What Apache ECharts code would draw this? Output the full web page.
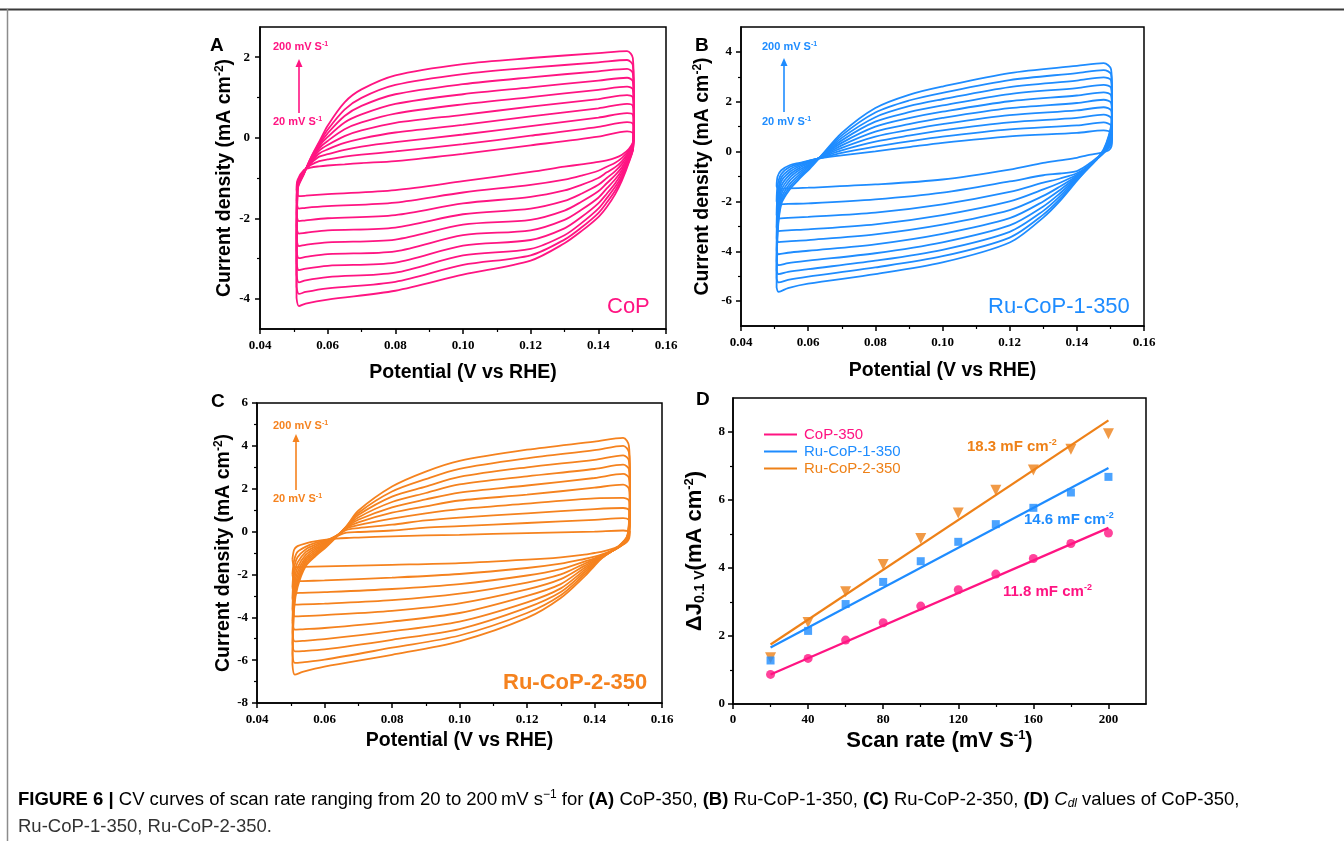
<!DOCTYPE html>
<html>
<head>
<meta charset="utf-8">
<script src="https://cdn.jsdelivr.net/npm/echarts@6/dist/echarts.min.js"></script>
<style>
  html, body { margin: 0; padding: 0; background: #fff; }
  #chart { width: 1344px; height: 841px; }
</style>
</head>
<body>
<div id="chart"></div>
<script>
// scan rates of the ten CV loops (mV/s), innermost loop first
const scanRates = [20, 40, 60, 80, 100, 120, 140, 160, 180, 200];

// ---- panel A, CoP: forward sweep (rows = potential, cols = scan rate)
const cvA_fwdX = [0.0508, 0.0511, 0.053, 0.055, 0.0575, 0.06, 0.065, 0.07, 0.08, 0.10, 0.12, 0.14, 0.1485, 0.1502];
const cvA_fwd = [
  [-1.30, -1.58, -1.89, -2.20, -2.50, -2.80, -3.10, -3.40, -3.70, -3.98],
  [-1.05, -1.10, -1.12, -1.15, -1.17, -1.20, -1.22, -1.25, -1.27, -1.30],
  [-0.80, -0.82, -0.83, -0.84, -0.85, -0.86, -0.87, -0.88, -0.89, -0.90],
  [-0.74, -0.68, -0.64, -0.61, -0.59, -0.57, -0.55, -0.53, -0.51, -0.50],
  [-0.71, -0.58, -0.47, -0.39, -0.32, -0.26, -0.21, -0.17, -0.13, -0.10],
  [-0.69, -0.54, -0.41, -0.29, -0.18, -0.08, 0.02, 0.11, 0.20, 0.30],
  [-0.66, -0.47, -0.30, -0.13, 0.04, 0.21, 0.38, 0.54, 0.70, 0.88],
  [-0.63, -0.42, -0.22, -0.02, 0.18, 0.38, 0.58, 0.79, 0.99, 1.20],
  [-0.58, -0.34, -0.11, 0.13, 0.37, 0.60, 0.84, 1.08, 1.31, 1.55],
  [-0.40, -0.16, 0.08, 0.32, 0.57, 0.83, 1.08, 1.33, 1.58, 1.83],
  [-0.19, 0.05, 0.29, 0.53, 0.77, 1.01, 1.25, 1.50, 1.74, 1.98],
  [0.03, 0.27, 0.50, 0.73, 0.96, 1.19, 1.42, 1.65, 1.87, 2.10],
  [0.16, 0.39, 0.61, 0.84, 1.06, 1.27, 1.49, 1.71, 1.93, 2.15],
  [0.12, 0.35, 0.57, 0.79, 1.00, 1.20, 1.40, 1.60, 1.80, 1.98]
];
// reverse sweep
const cvA_revX = [0.1505, 0.1503, 0.149, 0.147, 0.145, 0.1425, 0.14, 0.135, 0.13, 0.12, 0.10, 0.08, 0.06, 0.0535, 0.0515];
const cvA_rev = [
  [0.02, 0.15, 0.27, 0.40, 0.52, 0.64, 0.76, 0.88, 1.00, 1.10],
  [-0.10, -0.12, -0.14, -0.16, -0.18, -0.20, -0.22, -0.24, -0.25, -0.25],
  [-0.28, -0.32, -0.36, -0.40, -0.44, -0.48, -0.52, -0.56, -0.59, -0.62],
  [-0.42, -0.50, -0.58, -0.65, -0.73, -0.80, -0.87, -0.94, -1.00, -1.06],
  [-0.50, -0.62, -0.73, -0.83, -0.93, -1.03, -1.13, -1.22, -1.31, -1.40],
  [-0.56, -0.72, -0.86, -1.00, -1.13, -1.26, -1.39, -1.50, -1.61, -1.72],
  [-0.60, -0.82, -1.00, -1.17, -1.33, -1.49, -1.63, -1.76, -1.87, -1.97],
  [-0.66, -0.94, -1.17, -1.39, -1.59, -1.79, -1.97, -2.12, -2.23, -2.32],
  [-0.72, -1.04, -1.31, -1.57, -1.81, -2.04, -2.25, -2.42, -2.53, -2.62],
  [-0.85, -1.17, -1.47, -1.76, -2.04, -2.30, -2.54, -2.76, -2.92, -3.05],
  [-1.08, -1.36, -1.63, -1.90, -2.16, -2.42, -2.68, -2.92, -3.16, -3.40],
  [-1.30, -1.61, -1.92, -2.23, -2.53, -2.82, -3.10, -3.35, -3.58, -3.80],
  [-1.40, -1.70, -2.00, -2.30, -2.60, -2.89, -3.18, -3.46, -3.74, -4.02],
  [-1.44, -1.74, -2.05, -2.36, -2.66, -2.96, -3.25, -3.54, -3.83, -4.12],
  [-1.45, -1.76, -2.07, -2.38, -2.69, -2.99, -3.29, -3.59, -3.88, -4.18]
];

// ---- panel B, Ru-CoP-1-350
const cvB_fwdX = [0.0506, 0.0509, 0.052, 0.0545, 0.0575, 0.0605, 0.0635, 0.07, 0.08, 0.09, 0.10, 0.12, 0.14, 0.148, 0.1502];
const cvB_fwd = [
  [-1.40, -2.00, -2.55, -3.05, -3.50, -3.98, -4.42, -4.78, -5.10, -5.45],
  [-1.00, -1.35, -1.70, -2.00, -2.30, -2.55, -2.80, -3.00, -3.15, -3.30],
  [-0.75, -0.90, -1.05, -1.20, -1.38, -1.55, -1.72, -1.88, -2.00, -2.10],
  [-0.55, -0.62, -0.72, -0.82, -0.93, -1.05, -1.17, -1.30, -1.42, -1.52],
  [-0.45, -0.48, -0.52, -0.58, -0.65, -0.73, -0.82, -0.91, -1.00, -1.08],
  [-0.35, -0.36, -0.38, -0.41, -0.45, -0.49, -0.53, -0.58, -0.63, -0.68],
  [-0.27, -0.26, -0.25, -0.24, -0.24, -0.23, -0.23, -0.23, -0.23, -0.23],
  [-0.15, -0.05, 0.05, 0.15, 0.25, 0.35, 0.45, 0.55, 0.65, 0.75],
  [0.01, 0.20, 0.40, 0.60, 0.80, 1.00, 1.20, 1.38, 1.57, 1.75],
  [0.18, 0.41, 0.64, 0.87, 1.10, 1.34, 1.58, 1.82, 2.05, 2.28],
  [0.35, 0.60, 0.85, 1.10, 1.35, 1.60, 1.85, 2.10, 2.36, 2.61],
  [0.61, 0.89, 1.17, 1.46, 1.74, 2.02, 2.31, 2.59, 2.87, 3.15],
  [0.75, 1.05, 1.35, 1.65, 1.95, 2.25, 2.55, 2.85, 3.15, 3.44],
  [0.85, 1.17, 1.48, 1.78, 2.08, 2.38, 2.68, 2.98, 3.27, 3.55],
  [0.75, 1.05, 1.35, 1.65, 1.95, 2.25, 2.55, 2.85, 3.10, 3.30]
];
const cvB_revX = [0.1505, 0.1503, 0.1495, 0.148, 0.146, 0.143, 0.14, 0.135, 0.13, 0.12, 0.10, 0.08, 0.06, 0.054, 0.0512];
const cvB_rev = [
  [0.50, 0.75, 0.95, 1.15, 1.35, 1.55, 1.75, 1.95, 2.15, 2.35],
  [0.20, 0.35, 0.45, 0.55, 0.65, 0.75, 0.85, 0.95, 1.05, 1.15],
  [0.05, 0.15, 0.22, 0.28, 0.34, 0.40, 0.46, 0.52, 0.58, 0.64],
  [-0.02, -0.05, -0.05, -0.04, -0.03, -0.01, 0.01, 0.03, 0.06, 0.10],
  [-0.08, -0.25, -0.29, -0.30, -0.30, -0.30, -0.30, -0.29, -0.29, -0.28],
  [-0.15, -0.55, -0.62, -0.66, -0.68, -0.69, -0.70, -0.71, -0.72, -0.72],
  [-0.25, -0.78, -0.87, -0.93, -0.98, -1.02, -1.06, -1.10, -1.14, -1.18],
  [-0.35, -0.88, -1.08, -1.25, -1.40, -1.54, -1.67, -1.79, -1.90, -1.98],
  [-0.45, -0.95, -1.25, -1.52, -1.78, -2.00, -2.20, -2.38, -2.53, -2.65],
  [-0.72, -1.20, -1.62, -2.00, -2.35, -2.67, -2.96, -3.22, -3.45, -3.65],
  [-1.12, -1.65, -2.12, -2.55, -2.93, -3.30, -3.64, -3.94, -4.20, -4.45],
  [-1.32, -1.92, -2.45, -2.92, -3.32, -3.72, -4.08, -4.38, -4.65, -4.92],
  [-1.45, -2.08, -2.62, -3.12, -3.55, -3.98, -4.38, -4.72, -5.02, -5.30],
  [-1.48, -2.10, -2.66, -3.16, -3.60, -4.06, -4.48, -4.83, -5.15, -5.48],
  [-1.50, -2.12, -2.69, -3.19, -3.63, -4.12, -4.56, -4.92, -5.25, -5.63]
];

// ---- panel C, Ru-CoP-2-350
const cvC_fwdX = [0.0505, 0.051, 0.052, 0.0545, 0.0575, 0.0605, 0.0635, 0.0665, 0.07, 0.08, 0.09, 0.10, 0.12, 0.14, 0.1485, 0.1502];
const cvC_fwd = [
  [-1.30, -2.00, -2.60, -3.10, -3.60, -4.20, -4.70, -5.20, -5.70, -6.20],
  [-0.85, -1.35, -1.70, -2.00, -2.30, -2.60, -2.90, -3.15, -3.40, -3.60],
  [-0.68, -0.95, -1.20, -1.45, -1.68, -1.90, -2.10, -2.30, -2.45, -2.60],
  [-0.55, -0.70, -0.82, -0.95, -1.08, -1.20, -1.30, -1.40, -1.50, -1.60],
  [-0.45, -0.52, -0.60, -0.68, -0.76, -0.84, -0.92, -1.00, -1.07, -1.12],
  [-0.38, -0.40, -0.43, -0.47, -0.51, -0.55, -0.59, -0.63, -0.68, -0.72],
  [-0.33, -0.22, -0.20, -0.20, -0.21, -0.22, -0.23, -0.24, -0.25, -0.26],
  [-0.30, -0.05, 0.08, 0.14, 0.18, 0.20, 0.22, 0.23, 0.24, 0.25],
  [-0.28, -0.02, 0.16, 0.30, 0.43, 0.55, 0.66, 0.77, 0.87, 0.97],
  [-0.22, 0.05, 0.32, 0.60, 0.88, 1.13, 1.38, 1.63, 1.87, 2.10],
  [-0.18, 0.18, 0.52, 0.85, 1.18, 1.50, 1.80, 2.10, 2.45, 2.80],
  [-0.15, 0.25, 0.65, 1.05, 1.45, 1.82, 2.20, 2.55, 2.93, 3.30],
  [-0.07, 0.40, 0.85, 1.30, 1.72, 2.15, 2.58, 3.00, 3.42, 3.82],
  [0.00, 0.55, 1.05, 1.55, 2.05, 2.50, 2.92, 3.35, 3.80, 4.20],
  [0.05, 0.63, 1.10, 1.57, 2.19, 2.69, 3.12, 3.56, 4.00, 4.37],
  [0.02, 0.55, 1.00, 1.45, 2.00, 2.50, 2.90, 3.30, 3.70, 4.00]
];
const cvC_revX = [0.1505, 0.1503, 0.1498, 0.149, 0.147, 0.145, 0.142, 0.14, 0.137, 0.13, 0.12, 0.10, 0.08, 0.06, 0.0535, 0.0512];
const cvC_rev = [
  [0.00, 0.30, 0.60, 0.90, 1.20, 1.50, 1.80, 2.10, 2.40, 2.70],
  [-0.30, -0.10, 0.00, 0.10, 0.20, 0.30, 0.40, 0.50, 0.60, 0.70],
  [-0.45, -0.40, -0.35, -0.30, -0.28, -0.25, -0.22, -0.20, -0.18, -0.15],
  [-0.55, -0.55, -0.52, -0.50, -0.48, -0.46, -0.44, -0.42, -0.40, -0.38],
  [-0.70, -0.75, -0.75, -0.75, -0.74, -0.73, -0.72, -0.71, -0.70, -0.70],
  [-0.82, -0.90, -0.92, -0.93, -0.93, -0.93, -0.93, -0.93, -0.93, -0.93],
  [-0.95, -1.08, -1.12, -1.15, -1.17, -1.19, -1.21, -1.23, -1.25, -1.27],
  [-1.00, -1.17, -1.25, -1.30, -1.35, -1.40, -1.45, -1.50, -1.55, -1.60],
  [-1.08, -1.28, -1.40, -1.50, -1.60, -1.70, -1.80, -1.90, -2.00, -2.10],
  [-1.20, -1.50, -1.75, -2.00, -2.22, -2.45, -2.65, -2.82, -2.97, -3.10],
  [-1.31, -1.70, -2.05, -2.38, -2.70, -3.00, -3.30, -3.55, -3.80, -4.03],
  [-1.47, -1.98, -2.45, -2.90, -3.35, -3.80, -4.20, -4.55, -4.85, -5.12],
  [-1.55, -2.15, -2.68, -3.20, -3.70, -4.20, -4.65, -5.05, -5.42, -5.75],
  [-1.62, -2.28, -2.83, -3.36, -3.90, -4.50, -5.02, -5.50, -5.98, -6.30],
  [-1.65, -2.31, -2.86, -3.40, -3.95, -4.56, -5.10, -5.58, -6.10, -6.55],
  [-1.67, -2.32, -2.87, -3.41, -3.96, -4.58, -5.12, -5.59, -6.13, -6.68]
];

// ---- panel D, delta J at 0.1 V vs scan rate
const dlRates = [20, 40, 60, 80, 100, 120, 140, 160, 180, 200];
const dlCoP = [0.87, 1.34, 1.88, 2.39, 2.88, 3.36, 3.82, 4.28, 4.72, 5.03];
const dlRu1 = [1.28, 2.15, 2.94, 3.59, 4.20, 4.77, 5.29, 5.77, 6.22, 6.68];
const dlRu2 = [1.36, 2.40, 3.30, 4.10, 4.87, 5.62, 6.29, 6.88, 7.49, 7.95];
const fitX = [20, 200];
const fitCoP = [0.87, 5.18];
const fitRu1 = [1.66, 6.94];
const fitRu2 = [1.75, 8.34];

// tick values
const potTicks = [0.04, 0.06, 0.08, 0.10, 0.12, 0.14, 0.16];
const potMinor = [0.05, 0.07, 0.09, 0.11, 0.13, 0.15];
const aYTicks = [-4, -2, 0, 2];
const aYMinor = [-3, -1, 1];
const bYTicks = [-6, -4, -2, 0, 2, 4];
const bYMinor = [-5, -3, -1, 1, 3];
const cYTicks = [-8, -6, -4, -2, 0, 2, 4, 6];
const cYMinor = [-7, -5, -3, -1, 1, 3, 5];
const dXTicks = [0, 40, 80, 120, 160, 200];
const dXMinor = [20, 60, 100, 140, 180];
const dYTicks = [0, 2, 4, 6, 8];
const dYMinor = [1, 3, 5, 7];

const PINK = '#ff1482';
const BLUE = '#1e8cff';
const ORANGE = '#f5821e';
const SANS = 'Liberation Sans, Arial, sans-serif';
const SERIF = 'Liberation Serif, Times New Roman, serif';

function loops(fwdX, fwd, revX, rev) {
  return scanRates.map((r, k) => {
    const pts = fwdX.map((x, i) => [x, fwd[i][k]]);
    revX.forEach((x, i) => pts.push([x, rev[i][k]]));
    pts.push(pts[0]);
    return pts;
  });
}

function nameRich(size) {
  return {
    n: { fontFamily: SANS, fontWeight: 'bold', fontSize: size, color: '#000' },
    sup: { fontFamily: SANS, fontWeight: 'bold', fontSize: Math.round(size * 0.6), color: '#000', padding: [0, 0, Math.round(size * 0.5), 0] },
    sub: { fontFamily: SANS, fontWeight: 'bold', fontSize: Math.round(size * 0.65), color: '#000', padding: [Math.round(size * 0.5), 0, 0, 0] }
  };
}

function mainAxis(dim, gridIndex, min, max, ticks, fmt, name, nameGap, labelMargin, nameSize) {
  return {
    type: 'value', gridIndex, min, max,
    position: dim === 'x' ? 'bottom' : 'left',
    axisLine: { show: true, onZero: false, lineStyle: { color: '#000', width: 1.5 } },
    axisTick: { show: true, inside: false, length: 5, customValues: ticks, lineStyle: { color: '#000', width: 1.5 } },
    axisLabel: {
      customValues: ticks, formatter: fmt, margin: labelMargin,
      color: '#000', fontFamily: SERIF, fontWeight: 'bold', fontSize: 13
    },
    splitLine: { show: false },
    name, nameLocation: 'middle', nameGap,
    nameRotate: dim === 'y' ? 90 : 0,
    nameTextStyle: { fontFamily: SANS, fontWeight: 'bold', fontSize: nameSize, color: '#000', rich: nameRich(nameSize) }
  };
}

function minorAxis(dim, gridIndex, min, max, ticks) {
  return {
    type: 'value', gridIndex, min, max,
    position: dim === 'x' ? 'bottom' : 'left',
    axisLine: { show: false, onZero: false },
    axisTick: { show: true, inside: false, length: 3, customValues: ticks, lineStyle: { color: '#000', width: 1.2 } },
    axisLabel: { show: false },
    splitLine: { show: false }
  };
}

const fx2 = v => v.toFixed(2);
const fx0 = v => String(Math.round(v));
const potName = '{n|Potential (V vs RHE)}';
const cdName = '{n|Current density (mA cm}{sup|-2}{n|)}';

const grids = [
  { left: 260, top: 27, width: 406, height: 302 },
  { left: 741, top: 27, width: 403, height: 299 },
  { left: 257, top: 403, width: 405, height: 300 },
  { left: 733, top: 398, width: 413, height: 306 }
].map(g => Object.assign({ show: true, borderColor: '#000', borderWidth: 1.5, backgroundColor: 'transparent' }, g));

const xAxes = [
  mainAxis('x', 0, 0.04, 0.16, potTicks, fx2, potName, 34, 10, 19.5), minorAxis('x', 0, 0.04, 0.16, potMinor),
  mainAxis('x', 1, 0.04, 0.16, potTicks, fx2, potName, 35, 10, 19.5), minorAxis('x', 1, 0.04, 0.16, potMinor),
  mainAxis('x', 2, 0.04, 0.16, potTicks, fx2, potName, 28, 10, 19.5), minorAxis('x', 2, 0.04, 0.16, potMinor),
  mainAxis('x', 3, 0, 220, dXTicks, fx0, '{n|Scan rate (mV S}{sup|-1}{n|)}', 25, 9, 22), minorAxis('x', 3, 0, 220, dXMinor)
];
const yAxes = [
  mainAxis('y', 0, -4.75, 2.75, aYTicks, fx0, cdName, 24, 10, 19.5), minorAxis('y', 0, -4.75, 2.75, aYMinor),
  mainAxis('y', 1, -7, 5, bYTicks, fx0, cdName, 27, 9, 19.5), minorAxis('y', 1, -7, 5, bYMinor),
  mainAxis('y', 2, -8, 6, cYTicks, fx0, cdName, 22, 9, 19.5), minorAxis('y', 2, -8, 6, cYMinor),
  mainAxis('y', 3, 0, 9, dYTicks, fx0, '{n|\u0394J}{sub|0.1 V}{n|(mA cm}{sup|-2}{n|)}', 26, 8, 22), minorAxis('y', 3, 0, 9, dYMinor)
];

const series = [];
function addLoops(pts, axisIdx, color) {
  pts.forEach((d, k) => series.push({
    name: 'cv' + axisIdx + '-' + scanRates[k], type: 'line', data: d,
    xAxisIndex: axisIdx * 2, yAxisIndex: axisIdx * 2,
    showSymbol: false, smooth: 0.3, silent: true,
    lineStyle: { color, width: 1.8 }
  }));
}
addLoops(loops(cvA_fwdX, cvA_fwd, cvA_revX, cvA_rev), 0, PINK);
addLoops(loops(cvB_fwdX, cvB_fwd, cvB_revX, cvB_rev), 1, BLUE);
addLoops(loops(cvC_fwdX, cvC_fwd, cvC_revX, cvC_rev), 2, ORANGE);

const fits = [['CoP-350', fitCoP, PINK], ['Ru-CoP-1-350', fitRu1, BLUE], ['Ru-CoP-2-350', fitRu2, '#ee8118']];
fits.forEach(([name, vals, color]) => series.push({
  name, type: 'line', xAxisIndex: 6, yAxisIndex: 6,
  data: fitX.map((x, i) => [x, vals[i]]),
  showSymbol: false, lineStyle: { color, width: 2.2 }, itemStyle: { color }
}));
series.push(
  { name: 'Ru2 pts', type: 'scatter', xAxisIndex: 6, yAxisIndex: 6, symbol: 'triangle', symbolRotate: 180, symbolSize: 11,
    data: dlRates.map((x, i) => [x, dlRu2[i]]), itemStyle: { color: '#ee8118' } },
  { name: 'Ru1 pts', type: 'scatter', xAxisIndex: 6, yAxisIndex: 6, symbol: 'rect', symbolSize: 8,
    data: dlRates.map((x, i) => [x, dlRu1[i]]), itemStyle: { color: BLUE } },
  { name: 'CoP pts', type: 'scatter', xAxisIndex: 6, yAxisIndex: 6, symbol: 'circle', symbolSize: 9,
    data: dlRates.map((x, i) => [x, dlCoP[i]]), itemStyle: { color: PINK } }
);

function txt(x, y, text, size, color, weight, rich) {
  return {
    type: 'text', x, y, silent: true,
    style: { text, fill: color, fontSize: size, fontFamily: SANS, fontWeight: weight || 'normal',
      align: 'left', verticalAlign: 'middle', rich: rich || undefined }
  };
}
function rateLabel(x, y, rate, color) {
  return txt(x, y, '{a|' + rate + ' mV S}{s|-1}', 11, color, 'bold', {
    a: { fontSize: 11, fontWeight: 'bold', fontFamily: SANS, color },
    s: { fontSize: 7, fontWeight: 'bold', fontFamily: SANS, color, padding: [0, 0, 6, 0] }
  });
}
function arrow(x, yTop, yBottom, color) {
  return [
    { type: 'line', silent: true, shape: { x1: x, y1: yBottom, x2: x, y2: yTop + 6 }, style: { stroke: color, lineWidth: 1.6 } },
    { type: 'polygon', silent: true, shape: { points: [[x - 3.5, yTop + 8], [x + 3.5, yTop + 8], [x, yTop]] }, style: { fill: color } }
  ];
}
function slopeLabel(x, y, val, color) {
  return txt(x, y, '{a|' + val + ' mF cm}{s|-2}', 15, color, 'bold', {
    a: { fontSize: 15, fontWeight: 'bold', fontFamily: SANS, color },
    s: { fontSize: 9, fontWeight: 'bold', fontFamily: SANS, color, padding: [0, 0, 8, 0] }
  });
}

const CAP = 18.5;
const capRich = {
  b: { fontFamily: SANS, fontSize: CAP, fontWeight: 'bold', color: '#333' },
  n: { fontFamily: SANS, fontSize: CAP, color: '#333' },
  i: { fontFamily: SANS, fontSize: CAP, fontStyle: 'italic', color: '#333' },
  sup: { fontFamily: SANS, fontSize: 12, color: '#333', padding: [0, 0, 10, 0] },
  sub: { fontFamily: SANS, fontSize: 12, fontStyle: 'italic', color: '#333', padding: [8, 0, 0, 0] }
};

const graphic = [
  { type: 'line', silent: true, shape: { x1: 0, y1: 9.5, x2: 1344, y2: 9.5 }, style: { stroke: '#3a3a3a', lineWidth: 2 } },
  { type: 'line', silent: true, shape: { x1: 7.5, y1: 9, x2: 7.5, y2: 841 }, style: { stroke: '#8c8c8c', lineWidth: 1.5 } },
  txt(210, 46, 'A', 19, '#000', 'bold'),
  txt(695, 46, 'B', 19, '#000', 'bold'),
  txt(211, 402, 'C', 19, '#000', 'bold'),
  txt(696, 400, 'D', 19, '#000', 'bold'),
  rateLabel(273, 47, 200, PINK), rateLabel(273, 122, 20, PINK), ...arrow(299, 59, 113, PINK),
  rateLabel(762, 47, 200, BLUE), rateLabel(762, 122, 20, BLUE), ...arrow(784, 58, 112, BLUE),
  rateLabel(273, 426, 200, ORANGE), rateLabel(273, 499, 20, ORANGE), ...arrow(296, 434, 490, ORANGE),
  txt(607, 307, 'CoP', 22, PINK),
  txt(988, 307, 'Ru-CoP-1-350', 22, BLUE),
  txt(503, 683, 'Ru-CoP-2-350', 22, ORANGE, 'bold'),
  slopeLabel(967, 447, '18.3', '#ee8118'),
  slopeLabel(1024, 520, '14.6', BLUE),
  slopeLabel(1003, 592, '11.8', PINK),
  {
    type: 'text', x: 18, y: 800, silent: true,
    style: {
      text: '{b|FIGURE 6 | }{n|CV curves of scan rate ranging from 20 to 200\u2009mV s}{sup|\u22121}{n| for }{b|(A)}{n| CoP-350, }{b|(B)}{n| Ru-CoP-1-350, }{b|(C)}{n| Ru-CoP-2-350, }{b|(D)}{n| }{i|C}{sub|dl}{n| values of CoP-350,}',
      rich: capRich, verticalAlign: 'middle', align: 'left'
    }
  },
  txt(18, 827, 'Ru-CoP-1-350, Ru-CoP-2-350.', CAP, '#333')
];

const chart = echarts.init(document.getElementById('chart'));
chart.setOption({
  animation: false,
  backgroundColor: '#fff',
  grid: grids,
  xAxis: xAxes,
  yAxis: yAxes,
  legend: {
    data: fits.map(f => ({ name: f[0], textStyle: { color: f[2] } })),
    orient: 'vertical', left: 759, top: 422, itemGap: 2,
    icon: 'rect', itemWidth: 33, itemHeight: 2,
    textStyle: { fontFamily: SANS, fontSize: 15, padding: [0, 0, 0, 2] },
    selectedMode: false
  },
  series,
  graphic
});
</script>
</body>
</html>
